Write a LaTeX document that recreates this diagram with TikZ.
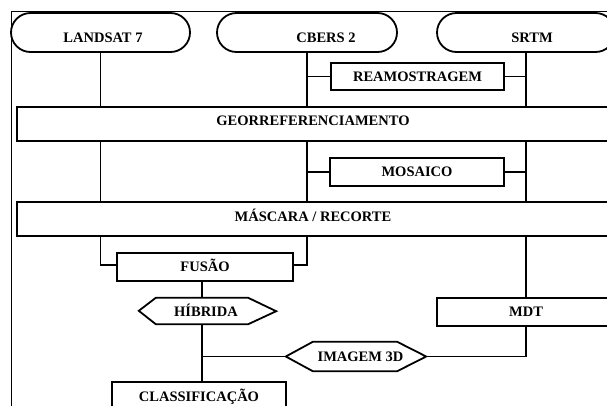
\documentclass[tikz,border=0pt]{standalone}
\usepackage{fontspec}
\setmainfont{Liberation Serif}
\usetikzlibrary{shapes.misc,calc}
\begin{document}
\begin{tikzpicture}[x=1pt,y=-1pt,
  every node/.style={font=\fontsize{14.5}{17}\selectfont\bfseries, inner sep=0pt, text height=9.6pt, text depth=0pt},
  ln/.style={line width=1.8pt},
  stadium/.style={draw, line width=1.8pt, rounded rectangle, minimum width=179pt, minimum height=39pt},
  box/.style={draw, line width=1.8pt, rectangle, minimum height=28pt},
  frame/.style={line width=0.8pt}]
\useasboundingbox (0,0) rectangle (607,405);
\clip (0,0) rectangle (607,405);
% frame
\draw[frame] (11,410) -- (11,11) -- (615,11);
% sources
\node[stadium] (l7) at (100.5,32.5) {};
\node (l7t) at (103,37.5) {LANDSAT 7};
\node[stadium, minimum width=180pt] (cb) at (307,32.5) {};
\node (cbt) at (326,37.5) {CBERS 2};
\node[stadium, minimum width=178pt] (sr) at (526,32.5) {};
\node (srt) at (532,37.5) {SRTM};
% processes
\node[box, minimum width=173pt, minimum height=27pt] (rea) at (417.5,76.5) {REAMOSTRAGEM};
\node[box, minimum width=592pt, minimum height=34pt] (geo) at (313,124) {};
\node (geot) at (313,120.5) {GEORREFERENCIAMENTO};
\node[box, minimum width=174pt] (mos) at (417,172) {MOSAICO};
\node[box, minimum width=592pt, minimum height=34pt] (mas) at (313,219) {};
\node (mast) at (313,216.5) {MÁSCARA / RECORTE};
\node[box, minimum width=176pt] (fus) at (205,267) {FUSÃO};
\node[box, minimum width=178pt] (mdt) at (526,312) {MDT};
\node[box, minimum width=174pt, minimum height=40pt] (cls) at (199,402) {};
\node (clst) at (199,396.5) {CLASSIFICAÇÃO};
% hexagons
\node[minimum width=92pt, minimum height=26pt] (hib) at (202,311) {};
\node (hibt) at (206,311.5) {HÍBRIDA};
\draw[ln] (hib.north west) -- ++(-17,13) -- (hib.south west) -- (hib.south east) -- ++(28,-13) -- (hib.north east) -- cycle;
\node[minimum width=84pt, minimum height=29pt] (img) at (355,356.5) {};
\node (imgt) at (360.5,356.5) {IMAGEM 3D};
\coordinate (imgW) at ($(img.west)+(-27,0)$);
\coordinate (imgE) at ($(img.east)+(29,0)$);
\draw[ln] (img.north west) -- (imgW) -- (img.south west) -- (img.south east) -- (imgE) -- (img.north east) -- cycle;
% connectors
\draw[ln] (l7.south) -- (l7.south |- geo.north);
\draw[ln] (cb.south) -- (cb.south |- geo.north);
\draw[ln] (sr.south) -- (sr.south |- geo.north);
\draw[ln] (rea.west) -- (rea.west -| cb.south);
\draw[ln] (rea.east) -- (rea.east -| sr.south);
\draw[ln] (l7.south |- geo.south) -- (l7.south |- mas.north);
\draw[ln] (cb.south |- geo.south) -- (cb.south |- mas.north);
\draw[ln] (sr.south |- geo.south) -- (sr.south |- mas.north);
\draw[ln] (mos.west) -- (mos.west -| cb.south);
\draw[ln] (mos.east) -- (mos.east -| sr.south);
\draw[ln] ([yshift=2pt]fus.west) -| (l7.south |- mas.south);
\draw[ln] ([yshift=2pt]fus.east) -| (cb.south |- mas.south);
\draw[ln] (mdt.north) -- (mdt.north |- mas.south);
\draw[ln] (hib.north) -- (hib.north |- fus.south);
\draw[ln] (hib.south) -- (hib.south |- cls.north);
\draw[ln] (imgW) -- (imgW -| hib.south);
\draw[ln] (imgE) -| (mdt.south);
\end{tikzpicture}
\end{document}
